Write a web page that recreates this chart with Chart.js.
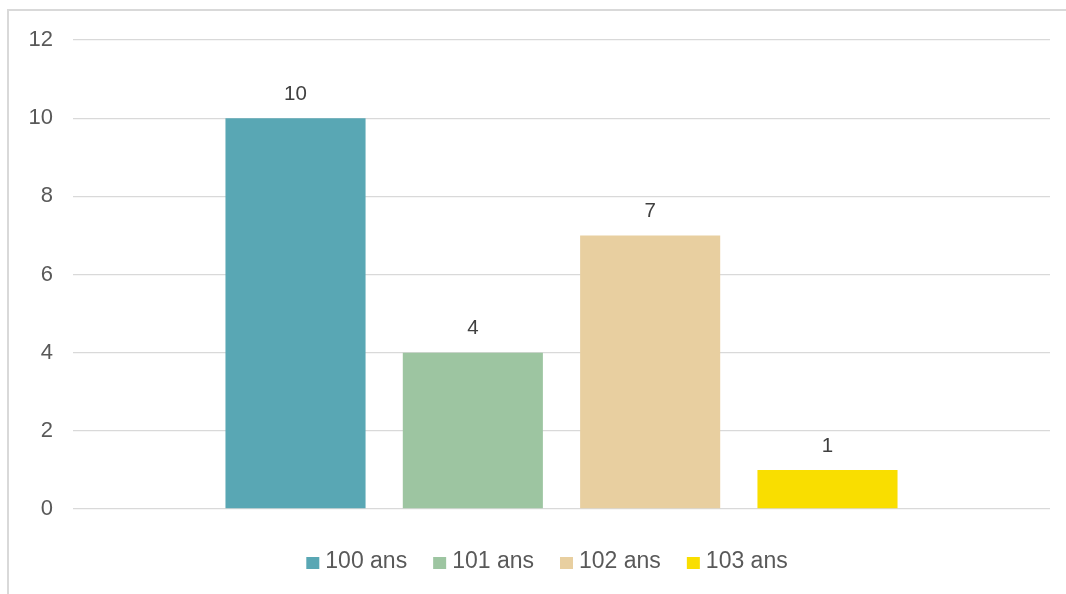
<!DOCTYPE html>
<html><head><meta charset="utf-8">
<script src="https://cdn.jsdelivr.net/npm/chart.js@4"></script>
<style>
html,body{margin:0;padding:0;background:#fff;overflow:hidden;}
#frame{position:absolute;left:7px;top:9px;width:1100px;height:700px;border-left:2px solid #d9d9d9;border-top:2px solid #d9d9d9;}
#wrap{position:absolute;left:0;top:0;width:1066px;height:594px;}
</style></head>
<body>
<div id="frame"></div>
<div id="wrap"><canvas id="c" width="1066" height="594"></canvas></div>
<script>
const categories = [''];
const seriesNames = ['100 ans', '101 ans', '102 ans', '103 ans'];
const seriesValues = [10, 4, 7, 1];
const seriesColors = ['#59A7B4', '#9DC5A1', '#E8CFA0', '#F9DE00'];
const yTicks = [0, 2, 4, 6, 8, 10, 12];

const FONT = '"Liberation Sans", Arial, sans-serif';

const valueLabels = {
  id: 'valueLabels',
  afterDatasetsDraw(chart) {
    const ctx = chart.ctx;
    ctx.save();
    ctx.font = '20.5px ' + FONT;
    ctx.fillStyle = '#404040';
    ctx.textAlign = 'center';
    ctx.textBaseline = 'middle';
    chart.data.datasets.forEach((ds, i) => {
      const meta = chart.getDatasetMeta(i);
      meta.data.forEach((bar, j) => {
        ctx.fillText(String(ds.data[j]), bar.x, bar.y - 24);
      });
    });
    ctx.restore();
  }
};

const customLegend = {
  id: 'customLegend',
  afterDraw(chart) {
    const ctx = chart.ctx;
    ctx.save();
    ctx.font = '23px ' + FONT;
    ctx.textBaseline = 'middle';
    const box = 13, gapText = 6, gapItem = 26;
    const items = chart.data.datasets.map(ds => ({label: ds.label, color: ds.backgroundColor, w: box + gapText + ctx.measureText(ds.label).width}));
    const total = items.reduce((a, it) => a + it.w, 0) + gapItem * (items.length - 1);
    const cx = 547;
    let x = cx - total / 2;
    const y = 562;
    items.forEach(it => {
      ctx.fillStyle = it.color;
      ctx.fillRect(x, y - 5, box, 12);
      ctx.fillStyle = '#595959';
      ctx.textAlign = 'left';
      ctx.fillText(it.label, x + box + gapText, y);
      x += it.w + gapItem;
    });
    ctx.restore();
  }
};

new Chart(document.getElementById('c'), {
  type: 'bar',
  data: {
    labels: categories,
    datasets: seriesNames.map((n, i) => ({
      label: n,
      data: [seriesValues[i]],
      backgroundColor: seriesColors[i],
      borderWidth: 0,
      barPercentage: 0.79,
      categoryPercentage: 0.726
    }))
  },
  options: {
    responsive: false,
    animation: false,
    devicePixelRatio: 1,
    layout: { padding: { left: 0, right: 16, top: 40, bottom: 85 } },
    plugins: { legend: { display: false }, tooltip: { enabled: false } },
    scales: {
      x: { display: false },
      y: {
        min: 0, max: 12,
        afterBuildTicks(axis) { axis.ticks = yTicks.map(v => ({ value: v })); },
        afterFit(axis) { axis.width = 73; },
        border: { display: false },
        grid: { color: '#d9d9d9', lineWidth: 1.3, drawTicks: false },
        ticks: { padding: 20, color: '#595959', font: { size: 22, family: FONT } }
      }
    }
  },
  plugins: [valueLabels, customLegend]
});
</script>
</body></html>
